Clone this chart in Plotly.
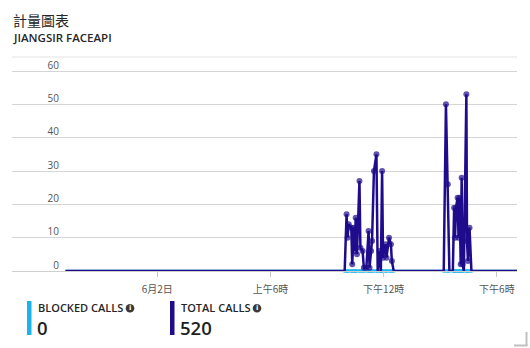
import plotly.graph_objects as go

# ---------------- data ----------------
DAY0 = "2019-06-01"
DAY1 = "2019-06-02"
SERIES_START = DAY0 + " 19:08"
SERIES_END = DAY1 + " 19:04"
AXIS_MIN = DAY0 + " 16:18"
AXIS_MAX = DAY1 + " 19:04"

CLUSTER1_TIMES = ["09:56", "10:02", "10:05", "10:09", "10:17", "10:20", "10:25", "10:28",
                  "10:31", "10:35", "10:43", "10:46", "10:53", "10:57", "11:05", "11:12",
                  "11:15", "11:20", "11:23", "11:29", "11:37", "11:41", "11:47", "11:51",
                  "11:55", "11:58", "12:06", "12:09", "12:17", "12:23", "12:26", "12:32"]
CLUSTER1_VALUES = [0, 17, 10, 14, 13, 2, 13, 6,
                   16, 5, 27, 7, 6, 1, 1, 12,
                   1, 6, 9, 30, 35, 0, 6, 0,
                   30, 4, 8, 4, 10, 8, 3, 0]

CLUSTER2_TIMES = ["15:11", "15:18", "15:24", "15:29", "15:40", "15:44", "15:47", "15:50",
                  "15:55", "15:58", "16:01", "16:05", "16:08", "16:11", "16:15", "16:23",
                  "16:25", "16:28", "16:33", "16:39"]
CLUSTER2_VALUES = [0, 50, 26, 0, 0, 19, 10, 19,
                   22, 10, 22, 2, 28, 2, 0, 53,
                   9, 3, 13, 0]

TICK_TIMES = [DAY1 + " 00:00", DAY1 + " 06:00", DAY1 + " 12:00", DAY1 + " 18:00"]
TICK_LABELS = ["6月2日", "上午6時", "下午12時", "下午6時"]
Y_TICKS = [0, 10, 20, 30, 40, 50, 60]
Y_MAX = 60.6

TITLE = "計量圖表"
SUBTITLE = "JIANGSIR FACEAPI"
LEGEND_NAMES = ["BLOCKED CALLS", "TOTAL CALLS"]
LEGEND_TOTALS = [0, 520]

# ---------------- series assembly ----------------
times = [SERIES_START] + [DAY1 + " " + t for t in CLUSTER1_TIMES] + \
        [DAY1 + " " + t for t in CLUSTER2_TIMES] + [SERIES_END]
total = [0] + CLUSTER1_VALUES + CLUSTER2_VALUES + [0]
blocked = [0] * len(total)
in_cluster = [False] + [True] * len(CLUSTER1_VALUES) + [True] * len(CLUSTER2_VALUES) + [False]

CYAN = "#1AB3EB"
PURPLE = "#1E0C8C"
FONT = "Open Sans, Noto Sans CJK TC, sans-serif"

# pixel layout helpers
L, R, T, B = 12, 517, 69, 271
W, H = 530, 348


def px(x):
    return (x - L) / (R - L)


def py(y):
    return (B - y) / (B - T)


fig = go.Figure()
fig.add_trace(go.Scatter(
    x=times, y=blocked, mode="lines+markers",
    line=dict(color=CYAN, width=2.5),
    marker=dict(color=CYAN, size=[4 if c else 0 for c in in_cluster], line=dict(width=0)),
    cliponaxis=False, hoverinfo="skip", showlegend=False))
fig.add_trace(go.Scatter(
    x=times, y=total, mode="lines+markers",
    line=dict(color=PURPLE, width=2.5),
    marker=dict(color=PURPLE, size=[6 if v > 0 else 0 for v in total], line=dict(width=0)),
    cliponaxis=False, hoverinfo="skip", showlegend=False))

shapes = []
annotations = []

# divider under the header
shapes.append(dict(type="line", xref="paper", yref="paper", x0=px(12), x1=px(517),
                   y0=py(57), y1=py(57), line=dict(color="#e3e3e3", width=1)))

annotations.append(dict(text=TITLE, xref="paper", yref="paper", x=px(11), y=py(20),
                        xanchor="left", yanchor="middle", showarrow=False,
                        font=dict(family="Noto Sans CJK TC", size=14, color="#262626")))
annotations.append(dict(text=SUBTITLE, xref="paper", yref="paper", x=px(11), y=py(37),
                        xanchor="left", yanchor="middle", showarrow=False,
                        font=dict(family=FONT, size=11.5, color="#262626", weight=600)))

# legend blocks
legend_x = [27, 170]
icon_x = [130, 257]
colors = [CYAN, PURPLE]
for name, tot, lx, ix, col in zip(LEGEND_NAMES, LEGEND_TOTALS, legend_x, icon_x, colors):
    shapes.append(dict(type="rect", xref="paper", yref="paper", x0=px(lx), x1=px(lx + 4.5),
                       y0=py(335), y1=py(301), fillcolor=col, line=dict(width=0)))
    annotations.append(dict(text=name, xref="paper", yref="paper", x=px(lx + 9.5), y=py(307.5),
                            xanchor="left", yanchor="middle", showarrow=False, borderpad=0,
                            font=dict(family=FONT, size=11, color="#262626", weight=600)))
    annotations.append(dict(text=str(tot), xref="paper", yref="paper", x=px(lx + 9), y=py(327),
                            xanchor="left", yanchor="middle", showarrow=False, borderpad=0,
                            font=dict(family=FONT, size=18.5, color="#1e1e1e", weight=600)))
    shapes.append(dict(type="circle", xref="paper", yref="paper", x0=px(ix - 4.3), x1=px(ix + 4.3),
                       y0=py(312.5), y1=py(303.9), fillcolor="#3a3a3a", line=dict(width=0)))
    annotations.append(dict(text="i", xref="paper", yref="paper", x=px(ix), y=py(308.2),
                            xanchor="center", yanchor="middle", showarrow=False, borderpad=0,
                            font=dict(family="DejaVu Sans", size=7, color="white", weight=700)))

# resize corner
shapes.append(dict(type="line", xref="paper", yref="paper", x0=px(526.5), x1=px(526.5),
                   y0=py(332), y1=py(346), line=dict(color="#c0c0c0", width=2)))
shapes.append(dict(type="line", xref="paper", yref="paper", x0=px(514), x1=px(527.5),
                   y0=py(345.5), y1=py(345.5), line=dict(color="#c0c0c0", width=2)))

fig.update_layout(
    width=W, height=H, autosize=False,
    margin=dict(l=L, r=W - R, t=T, b=H - B),
    paper_bgcolor="white", plot_bgcolor="white",
    font=dict(family=FONT, size=10, color="#555"),
    showlegend=False,
    shapes=shapes, annotations=annotations,
    xaxis=dict(type="date", range=[AXIS_MIN, AXIS_MAX], tickvals=TICK_TIMES, ticktext=TICK_LABELS,
               ticks="outside", ticklen=5, tickcolor="#c8c8c8", showgrid=False,
               showline=True, linecolor="#cfcfcf", linewidth=1, zeroline=False,
               ticklabelstandoff=4,
               tickfont=dict(family="Noto Sans CJK TC", size=10, color="#555"),
               fixedrange=True),
    yaxis=dict(range=[0, Y_MAX], tickvals=Y_TICKS, anchor="free", position=px(59),
               showline=False, ticks="", gridcolor="#d5d5d5", gridwidth=1, zeroline=False,
               ticklabelshift=-6, tickfont=dict(family=FONT, size=10, color="#555"),
               fixedrange=True),
)

fig.write_html("out.html")
